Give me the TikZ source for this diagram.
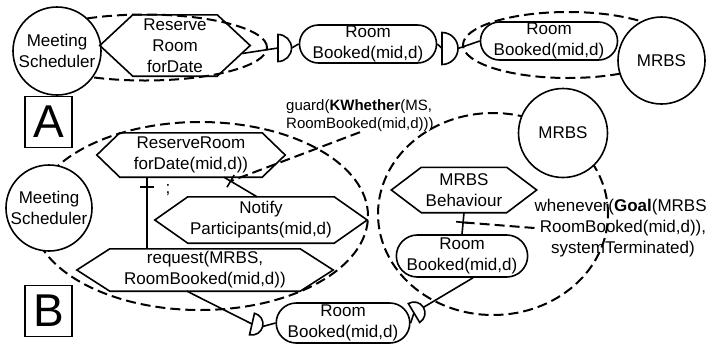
\documentclass[tikz,border=0pt]{standalone}
\usepackage{fontspec}
\setmainfont{Liberation Sans}
\usetikzlibrary{shapes.misc,decorations.markings}

\tikzset{
  actor/.style={draw, circle, fill=white, line width=1.6pt, minimum size=#1, inner sep=0pt, align=center},
  opbox/.style={inner sep=0pt, align=center},
  fact/.style={draw, fill=white, rounded rectangle, line width=1.6pt, inner sep=0pt, align=center},
  domainline/.style={line width=2pt, dash pattern=on 10pt off 5pt},
  conn/.style={line width=1.6pt},
  tagbox/.style={draw, line width=1.4pt, font=\fontsize{46}{46}\selectfont, minimum width=47pt, minimum height=51pt, inner sep=0pt},
  tickat/.style={postaction={decorate, decoration={markings,
    mark=at position #1 with {\draw[conn, solid] (0pt,-7pt) -- (0pt,7pt);}}}},
  socket/.pic={\draw[conn, fill=white] (0pt,-#1) -- (0pt,#1) arc[start angle=90, end angle=-90, radius=#1] -- cycle;
    \coordinate (-flat) at (0pt,0pt);
    \coordinate (-tip) at (#1,0pt);},
}
% hexagon outline round an opbox node, #2 = depth of the points
\newcommand\hexframe[2]{%
  \draw[conn] (#1.west) -- ([xshift=#2]#1.north west) -- ([xshift=-#2]#1.north east) -- (#1.east)
    -- ([xshift=-#2]#1.south east) -- ([xshift=#2]#1.south west) -- cycle;}

\begin{document}
\begin{tikzpicture}[x=1pt, y=-1pt, font=\fontsize{17}{21}\selectfont]
  \useasboundingbox (0,0) rectangle (708,346);

  % A: domains
  \draw[domainline] (145,47.5) ellipse [x radius=122pt, y radius=33pt];
  \draw[domainline] (568,45) ellipse [x radius=105pt, y radius=33pt];

  % A: nodes
  \node[actor=88pt] (msA) at (57,51) {Meeting\\Scheduler};
  \node[opbox, minimum width=150pt, minimum height=61pt] (hexA) at (175,45.5) {Reserve\\Room\\forDate};
  \hexframe{hexA}{33pt}
  \node[fact, minimum width=120pt, minimum height=38pt] (bookA1) at (368,44) {Room\\Booked(mid,d)};
  \node[fact, minimum width=118pt, minimum height=38pt] (bookA2) at (549,41) {Room\\Booked(mid,d)};
  \node[actor=87pt] (mrbsA) at (661.5,60.5) {MRBS};
  \node[tagbox] (tagA) at (48.5,122) {A};

  \pic (sockA1) at (278,48) {socket=13.5pt};
  \pic (sockA2) at (442,48.5) {socket=16pt};

  \draw[conn] ([xshift=-8pt, yshift=-8pt]hexA.east) -- (sockA1-flat);
  \draw[conn] (sockA1-tip) -- (bookA1.west);
  \draw[conn] (bookA1.east) -- (sockA2-flat);
  \draw[conn] (sockA2-tip) -- (bookA2.west);

  % B: domains
  \draw[domainline] (200,216) ellipse [x radius=168pt, y radius=94pt];
  \draw[domainline] (493,214) ellipse [x radius=115pt, y radius=101pt];

  % B: nodes
  \node[actor=86pt] (msB) at (49,208) {Meeting\\Scheduler};
  \node[opbox, minimum width=188pt, minimum height=44pt] (hexB1) at (191,155) {ReserveRoom\\forDate(mid,d))};
  \hexframe{hexB1}{23pt}
  \node[opbox, minimum width=212pt, minimum height=46pt] (hexB2) at (261,220) {Notify\\Participants(mid,d)};
  \hexframe{hexB2}{33pt}
  \node[opbox, minimum width=256pt, minimum height=42pt] (hexB3) at (205,270) {request(MRBS,\\RoomBooked(mid,d))};
  \hexframe{hexB3}{33pt}
  \node[tagbox] (tagB) at (48.5,311) {B};
  \node[actor=89pt] (mrbsB) at (563,133) {MRBS};
  \node[opbox, minimum width=145pt, minimum height=45pt] (hexB4) at (464,190) {MRBS\\Behaviour};
  \hexframe{hexB4}{30pt}
  \node[fact, minimum width=128pt, minimum height=42pt] (bookB1) at (462,256) {Room\\Booked(mid,d)};
  \node[fact, minimum width=127pt, minimum height=40pt] (bookB2) at (343,323) {Room\\Booked(mid,d)};
  \node[font=\fontsize{15}{18}\selectfont, align=left, anchor=west, inner sep=0pt] (guard) at (286,116) {guard(\textbf{KWhether}(MS,\\RoomBooked(mid,d)))};
  \node[align=center, inner sep=0pt] (whenever) at (623,228) {whenever(\textbf{Goal}(MRBS,\\RoomBooked(mid,d)),\\systemTerminated)};
  \node (semi) at (168,190) {;};

  \pic[rotate=-13] (sockB1) at (252,324) {socket=11pt};
  \pic[rotate=31] (sockB2) at (414,313) {socket=11pt};

  \draw[conn, tickat=0.14] ([xshift=-44pt]hexB1.south) -- ([xshift=-58pt]hexB3.north);
  \draw[conn, tickat=0.2] ([xshift=33pt]hexB1.south) -- coordinate[pos=0.2] (tkMS) ([xshift=-4pt]hexB2.north);
  \draw[domainline] (guard.south) -- (tkMS);
  \draw[conn] ([xshift=-18pt]hexB3.south) -- (sockB1-flat);
  \draw[conn] (sockB1-tip) -- (bookB2.west);
  \draw[conn] (bookB2.east) -- (sockB2-flat);
  \draw[conn] (sockB2-tip) -- ([xshift=11pt]bookB1.south);
  \draw[conn, tickat=0.45] (hexB4.south) -- coordinate[pos=0.45] (tkMRBS) (bookB1.north);
  \draw[domainline] (whenever.west) -- (tkMRBS);
\end{tikzpicture}
\end{document}
